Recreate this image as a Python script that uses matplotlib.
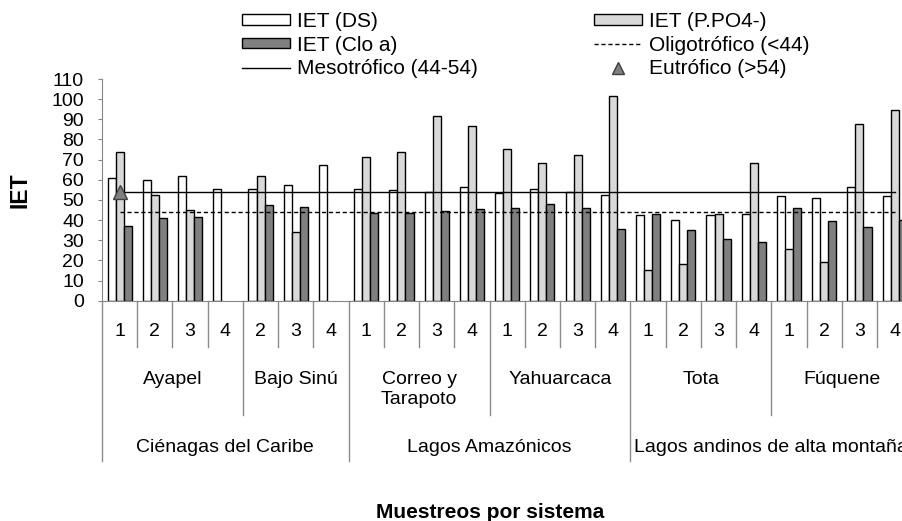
import numpy as np
import matplotlib
matplotlib.use("Agg")
import matplotlib.pyplot as plt
from matplotlib.patches import Patch
from matplotlib.lines import Line2D
import matplotlib.transforms as mtransforms

plt.rcParams['font.family'] = ['Liberation Sans', 'DejaVu Sans']

# ---------------- data ----------------
samples = ['1', '2', '3', '4', '2', '3', '4', '1', '2', '3', '4', '1', '2', '3', '4',
           '1', '2', '3', '4', '1', '2', '3', '4']
systems = ['Ayapel', 'Bajo Sinú', 'Correo y\nTarapoto', 'Yahuarcaca', 'Tota', 'Fúquene']
system_sizes = [4, 3, 4, 4, 4, 4]
regions = ['Ciénagas del Caribe', 'Lagos Amazónicos', 'Lagos andinos de alta montaña']
region_sizes = [7, 8, 8]

nan = np.nan
iet_ds = [60.7, 59.7, 62.0, 55.4, 55.4, 57.6, 67.2, 55.6, 54.8, 54.0, 56.3, 53.3,
          55.6, 54.0, 52.6, 42.4, 40.0, 42.4, 43.0, 51.8, 51.1, 56.3, 51.8]
iet_po4 = [73.6, 52.5, 45.2, nan, 62.0, 34.2, nan, 71.5, 73.6, 91.8, 86.8, 75.1,
           68.5, 72.2, 101.4, 15.2, 18.2, 43.0, 68.5, 25.5, 19.1, 87.5, 94.8]
iet_clo = [37.2, 40.9, 41.7, nan, 47.5, 46.7, nan, 43.7, 43.7, 44.5, 45.4, 46.0,
           48.1, 46.0, 35.7, 43.0, 34.9, 30.6, 29.1, 46.0, 39.4, 36.4, 40.0]
oligo_level = 44
meso_level = 54
eutro_point = 54  # marker shown at first sample

# ---------------- figure ----------------
W, H = 902, 521
fig = plt.figure(figsize=(W / 100, H / 100), dpi=100)
ax_left_px, ax_right_px = 102.0, 912.3
ax_bottom_px, ax_top_px = 300.7, 79.0
ax = fig.add_axes([ax_left_px / W, 1 - ax_bottom_px / H,
                   (ax_right_px - ax_left_px) / W, (ax_bottom_px - ax_top_px) / H])
ax_h_px = ax_bottom_px - ax_top_px

n = len(samples)
x = np.arange(n) + 0.5
bw = 0.228
edge = 'black'
ax.bar(x - bw, iet_ds, bw, color='white', edgecolor=edge, linewidth=1.0, zorder=2)
ax.bar(x, iet_po4, bw, color='#d9d9d9', edgecolor=edge, linewidth=1.0, zorder=2)
ax.bar(x + bw, iet_clo, bw, color='#808080', edgecolor=edge, linewidth=1.0, zorder=2)

ax.plot(x, np.full(n, oligo_level), color='black', linestyle=(0, (3, 2)), linewidth=1.0, zorder=3)
ax.plot(x, np.full(n, meso_level), color='black', linestyle='-', linewidth=1.0, zorder=3)
ax.plot([x[0]], [eutro_point], marker='^', markersize=10, color='#7f7f7f',
        markeredgecolor='#404040', linestyle='none', zorder=4)

ax.set_xlim(0, n)
ax.set_ylim(0, 110)
ax.set_yticks(np.arange(0, 111, 10))
ax.set_xticks([])
for s in ['top', 'right']:
    ax.spines[s].set_visible(False)
gray = '#868686'
ax.spines['left'].set_color(gray)
ax.spines['bottom'].set_color(gray)
ax.tick_params(axis='y', direction='out', length=3, color=gray, labelsize=14, pad=10,
               labelcolor='black')

# ---------------- multi-level category axis ----------------
def yax(py):
    return -(py - ax_bottom_px) / ax_h_px

trans = mtransforms.blended_transform_factory(ax.transData, ax.transAxes)
sep_col = '#8c8c8c'
lvl1_bot, lvl2_bot, lvl3_bot = 346.7, 415.0, 460.7

sys_bounds = np.cumsum([0] + system_sizes)
reg_bounds = np.cumsum([0] + region_sizes)
for b in range(0, n + 1):
    if b in reg_bounds:
        bot = lvl3_bot
    elif b in sys_bounds:
        bot = lvl2_bot
    else:
        bot = lvl1_bot
    ax.add_line(Line2D([b, b], [0, yax(bot)], transform=trans, color=sep_col,
                       linewidth=1.0, clip_on=False))

for i, s in enumerate(samples):
    ax.text(x[i], yax(331.7), s, transform=trans, ha='center', va='center', fontsize=14)

for k, s in enumerate(systems):
    c = (sys_bounds[k] + sys_bounds[k + 1]) / 2
    ax.text(c, yax(371.0), s, transform=trans, ha='center', va='top', fontsize=14,
            linespacing=1.25)

for k, s in enumerate(regions):
    c = (reg_bounds[k] + reg_bounds[k + 1]) / 2
    ax.text(c, yax(448.0), s, transform=trans, ha='center', va='center', fontsize=14)

# ---------------- labels ----------------
fig.text(490 / W, 1 - 512 / H, 'Muestreos por sistema', ha='center', va='center',
         fontsize=15, fontweight='bold')
fig.text(20 / W, 1 - 190 / H, 'IET', ha='center', va='center', rotation=90,
         fontsize=16.5, fontweight='bold')

# ---------------- legend ----------------
h_ds = Patch(facecolor='white', edgecolor='black', linewidth=1.0)
h_po4 = Patch(facecolor='#d9d9d9', edgecolor='black', linewidth=1.0)
h_clo = Patch(facecolor='#808080', edgecolor='black', linewidth=1.0)
h_oligo = Line2D([], [], color='black', linestyle=(0, (3, 2)), linewidth=1.0)
h_meso = Line2D([], [], color='black', linestyle='-', linewidth=1.0)
h_eutro = Line2D([], [], color='#7f7f7f', marker='^', markersize=8,
                 markeredgecolor='#404040', linestyle='none')

leg_kw = dict(frameon=False, loc='upper left', borderpad=0, borderaxespad=0,
              handlelength=2.3, handleheight=0.4, handletextpad=0.35,
              labelspacing=0.22, fontsize=15)
leg1 = fig.legend([h_ds, h_clo, h_meso], ['IET (DS)', 'IET (Clo a)', 'Mesotrófico (44-54)'],
                  bbox_to_anchor=(241.7 / W, 1 - 12 / H), **leg_kw)
leg2 = fig.legend([h_po4, h_oligo, h_eutro], ['IET (P.PO4-)', 'Oligotrófico (<44)', 'Eutrófico (>54)'],
                  bbox_to_anchor=(594 / W, 1 - 12 / H), **leg_kw)

fig.savefig('out.png', dpi=100)
